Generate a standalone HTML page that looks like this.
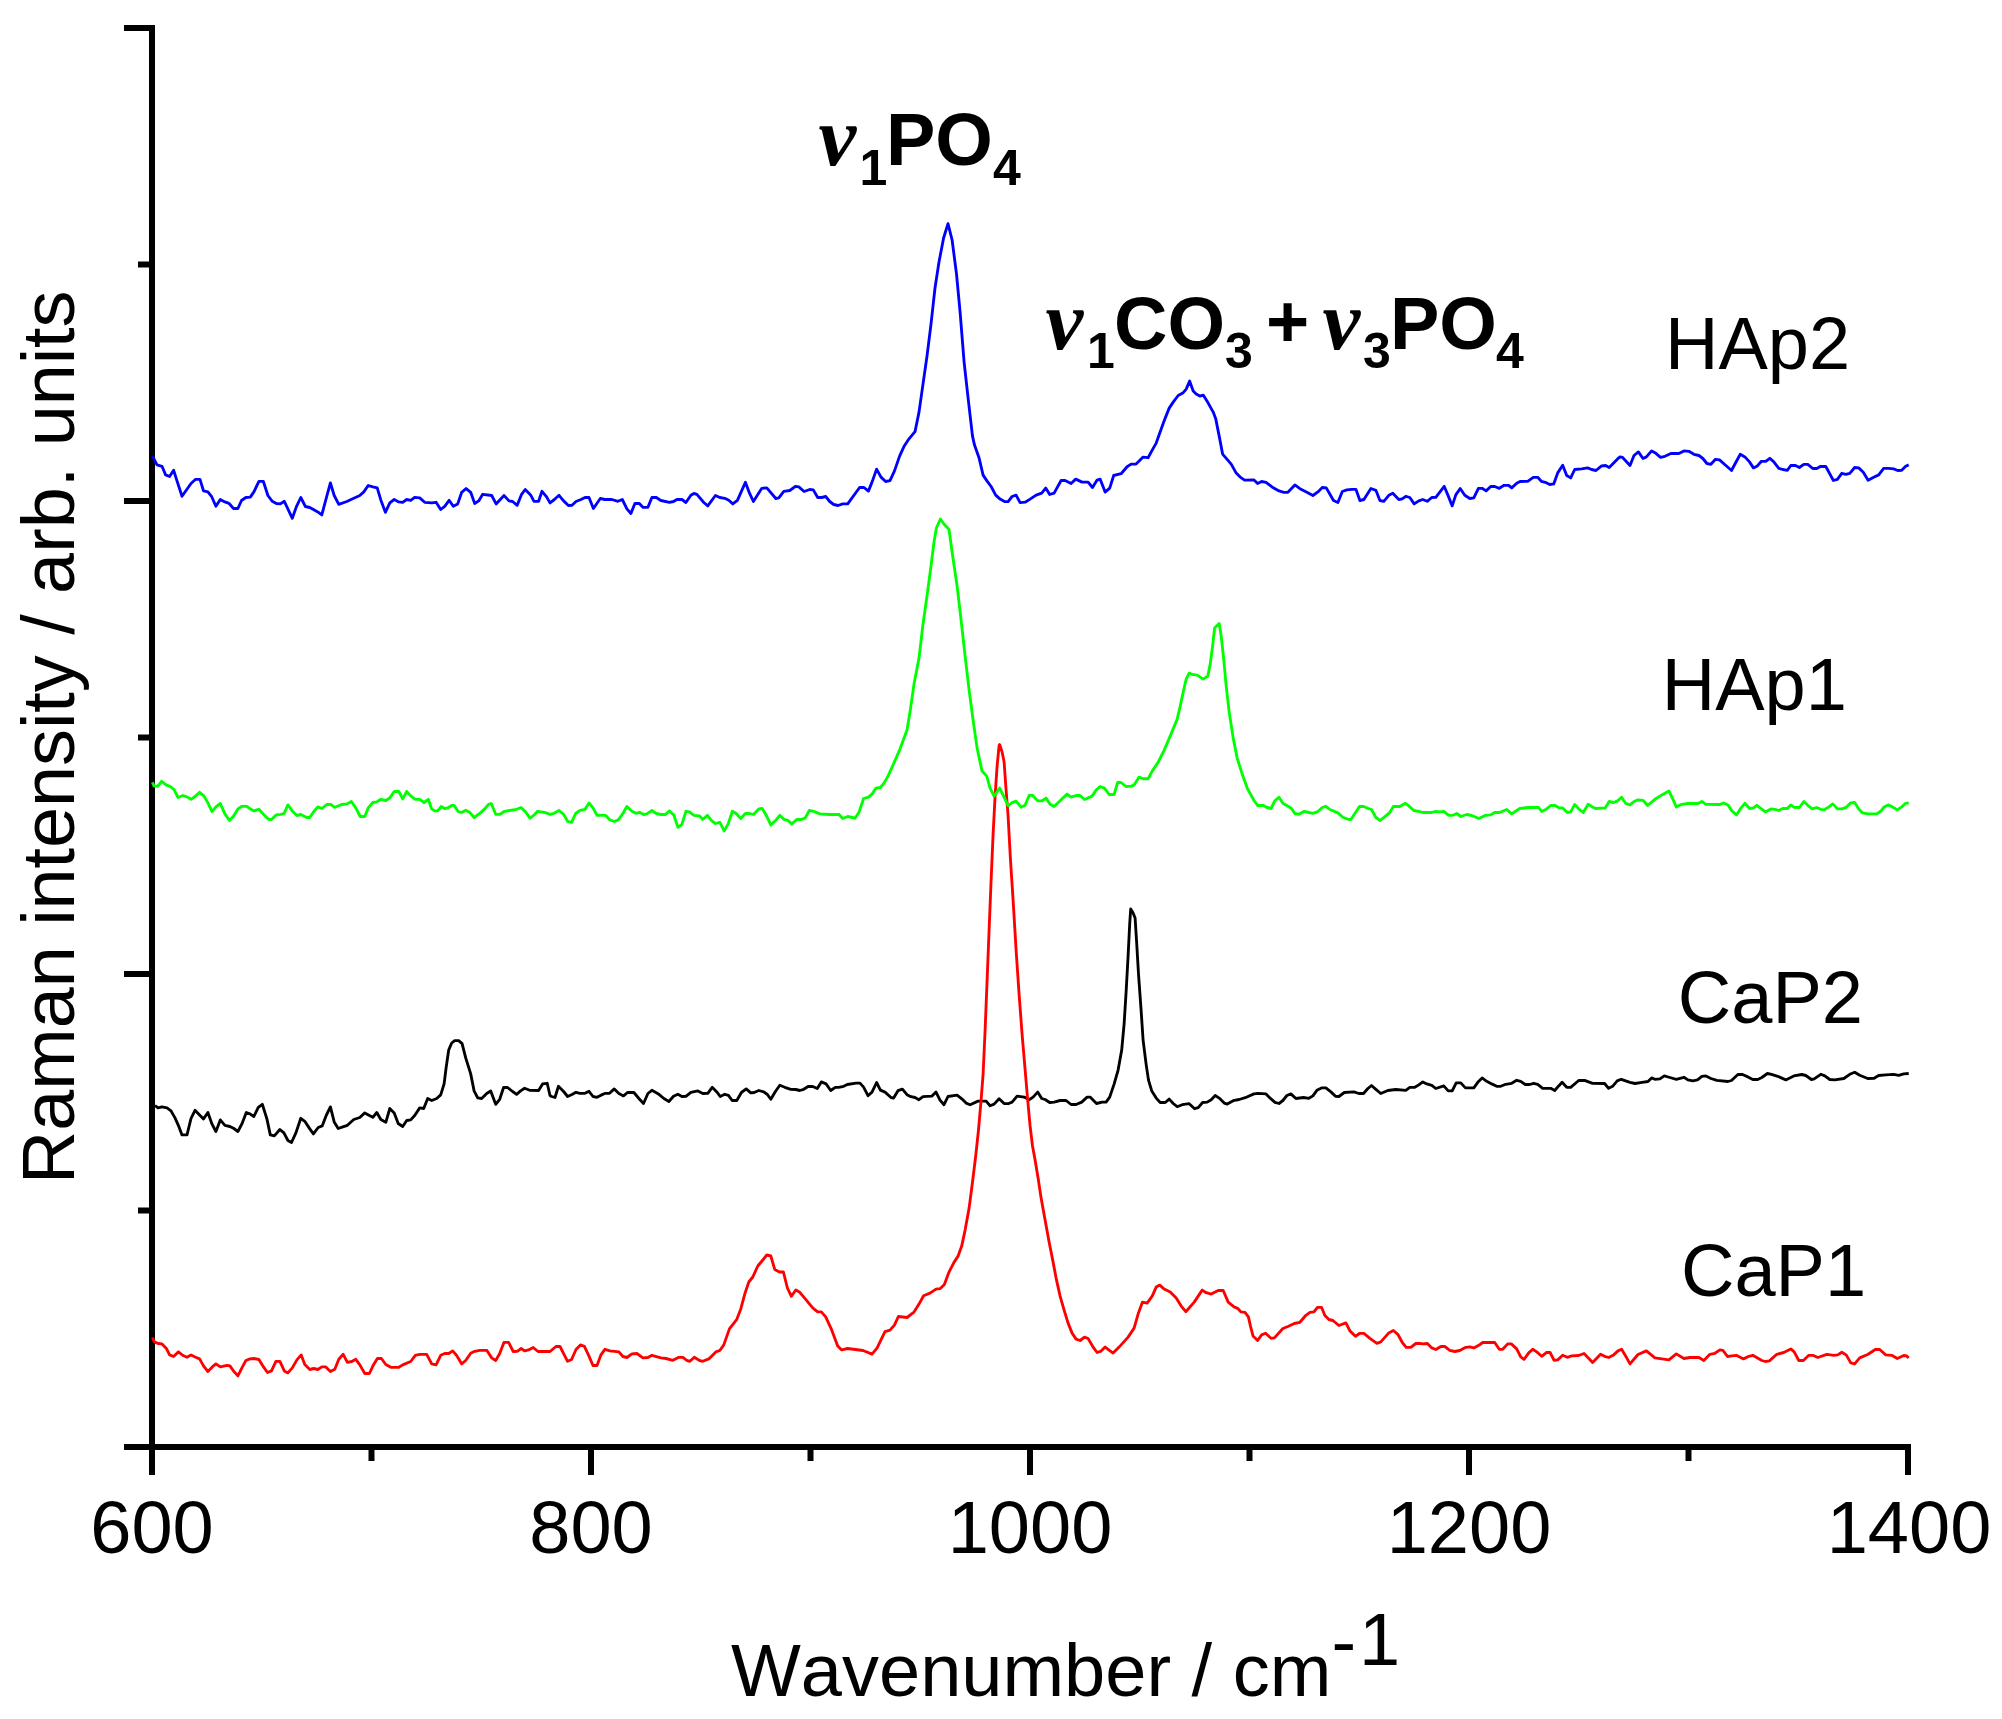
<!DOCTYPE html>
<html><head><meta charset="utf-8"><title>Raman spectra</title>
<style>
html,body{margin:0;padding:0;background:#fff;}
svg{display:block;}
text{font-family:"Liberation Sans",sans-serif;fill:#000;font-kerning:none;}
.b{font-weight:bold;}
.nu{font-family:"Liberation Serif",serif;font-weight:bold;font-style:italic;}
</style></head><body>
<svg width="2002" height="1719" viewBox="0 0 2002 1719">
<rect width="2002" height="1719" fill="#fff"/>

<g stroke="#000" stroke-width="6" fill="none" stroke-linecap="butt">
<line x1="152" y1="25" x2="152" y2="1475"/>
<line x1="124" y1="1447" x2="1911" y2="1447"/>
<line x1="124" y1="28" x2="152" y2="28"/>
<line x1="124" y1="501" x2="152" y2="501"/>
<line x1="124" y1="974" x2="152" y2="974"/>
<line x1="138" y1="264.5" x2="152" y2="264.5"/>
<line x1="138" y1="737.5" x2="152" y2="737.5"/>
<line x1="138" y1="1210.5" x2="152" y2="1210.5"/>
<line x1="591" y1="1447" x2="591" y2="1475"/>
<line x1="1030" y1="1447" x2="1030" y2="1475"/>
<line x1="1469" y1="1447" x2="1469" y2="1475"/>
<line x1="1908" y1="1447" x2="1908" y2="1475"/>
<line x1="371.5" y1="1447" x2="371.5" y2="1461"/>
<line x1="810.5" y1="1447" x2="810.5" y2="1461"/>
<line x1="1249.5" y1="1447" x2="1249.5" y2="1461"/>
<line x1="1688.5" y1="1447" x2="1688.5" y2="1461"/>
</g>
<polyline points="155,1105.5 158,1107.9 162,1106.9 167,1107.9 171,1110.9 175,1117.9 179,1126.9 182,1134.9 187,1134.9 191,1118.5 195,1110.3 199.6,1114.9 203.5,1118.9 207.9,1112.5 211.9,1123.9 215.9,1131.5 220.3,1119.9 224.9,1125.3 229.9,1126.5 233.9,1128.5 237.9,1131.5 241.9,1123.9 246.3,1112.5 249.9,1113.9 253.9,1116.5 258.3,1107.3 262.3,1104.3 266.9,1118.9 270.3,1134.9 274.3,1135.9 279.9,1129.5 283.9,1132.9 287.9,1140.5 291.5,1142.5 295.9,1132.9 300.8,1118.3 304.8,1121.3 309.8,1128.9 313.4,1133.9 318.2,1127.5 322.2,1125.9 326.2,1115.5 330.4,1106.9 334.2,1121.9 338.2,1128.5 342.8,1126.9 347.4,1125.3 353.8,1119.5 359.8,1117.5 364.8,1112.9 369.4,1115.5 372.8,1117.3 376.8,1112.5 380.8,1119.5 385.8,1122.3 389.8,1108.5 394.2,1112.9 398.2,1123.5 402.7,1126.5 406.7,1120.5 410.7,1119.9 414.7,1115.5 419.7,1107.9 423.7,1108.5 427.7,1098.5 431.7,1100.5 436.7,1098.5 440.7,1094.9 444.1,1083.9 446.1,1067.9 448.7,1050 451.7,1043 454.7,1040.6 458.7,1040.6 462.1,1043.6 465.7,1057.9 470.7,1073.9 474.1,1090.9 477.7,1097.9 481.7,1098.5 486.7,1093.5 490.7,1090.9 495.7,1104.3 499.7,1099.3 503.6,1087.5 507.6,1087.5 512.6,1091.5 516.6,1094.3 520.6,1090.9 524.6,1088.3 529.6,1090.3 538.6,1090.5 542.6,1083.9 547.2,1083.3 550,1095.5 551.6,1096.5 555,1097.5 558.4,1086.3 563.6,1091.5 567.6,1096.5 572,1094.5 576,1092.3 580,1093.3 585,1093.3 589,1091.3 593,1096.5 597,1097.3 601.5,1094.9 605.5,1093.3 609.5,1093.3 614.3,1088.9 618.9,1093.5 623.5,1095.9 627.5,1092.5 633.9,1092.5 638.9,1098.5 643.5,1103.5 647.9,1093.5 651.9,1090.3 658.9,1094.3 663.9,1098.5 668.9,1101.5 673.5,1096.3 677.9,1094.3 681.9,1096.5 685.9,1096.3 690.9,1092.3 697.9,1090.9 702.8,1093.5 707.8,1093.3 712.2,1087.3 716.8,1091.9 720.2,1096.5 724.8,1094.3 728.4,1095.3 732.2,1100.5 736.8,1100.5 741.4,1092.5 746.2,1088.9 750.8,1092.9 754.2,1092.5 758.8,1090.5 763.8,1091.9 767.4,1094.5 770.8,1099.3 775.4,1091.5 779.8,1085.3 784.8,1087.3 790.8,1089.3 795.8,1089.5 799.8,1090.5 803.7,1089.3 808.1,1086.5 812.7,1086.5 817.3,1088.5 821.3,1081.9 826.1,1083.9 830.7,1090.5 835.3,1087.3 838.7,1087.3 843.7,1086.3 847.3,1084.5 856,1083.1 860,1083.1 863.6,1087.1 868,1095.7 872,1092.1 876.6,1082.5 880.4,1090.1 885,1092.1 891,1097.5 893.6,1098.1 898,1090.7 902.4,1089.1 907,1094.7 911,1096.7 915,1097.5 919,1099.7 923,1096.7 932,1096.1 936,1092.1 940,1100.1 944,1104.7 948,1096.5 957.1,1095.1 962.1,1099.1 966.1,1103.1 970.1,1104.7 978.1,1101.1 986.1,1101.1 990.1,1105.7 994.1,1104.1 999.1,1098.7 1004.1,1103.5 1008.1,1103.7 1012.1,1102.1 1017.1,1096.1 1024.1,1097.1 1029.1,1099.7 1033.1,1097.1 1037.7,1092.1 1041.7,1098.5 1045.1,1099.5 1049.7,1102.5 1054.1,1102.1 1060.1,1100.5 1066.1,1100.5 1071.1,1104.5 1076.1,1104.5 1081.7,1102.1 1087.1,1097.1 1090.1,1097.1 1096.5,1103.5 1102.1,1102.1 1106.1,1102.1 1109.7,1097.1 1114.1,1084.1 1118.1,1070.1 1121.7,1050.1 1124.1,1024.1 1126.1,992.1 1128.1,956 1129.7,924 1130.7,909 1133.1,913 1135.1,918 1136.5,940 1138.5,974 1141.1,1010.1 1143.1,1040.1 1146.1,1064.1 1148.5,1080.1 1151.8,1091.1 1156.2,1098.1 1160.2,1102.5 1165.2,1102.5 1169.2,1099.1 1173.2,1103.5 1177.2,1106.7 1182.2,1104.7 1189.2,1103.7 1194.6,1108.7 1198.2,1107.7 1202.6,1102.5 1207.2,1102.1 1211.2,1099.7 1215.2,1095.5 1219.2,1098.1 1224.2,1103.1 1227.2,1104.1 1233.2,1100.7 1239.2,1099.5 1245.2,1097.7 1254,1093.9 1258,1093.3 1266,1093.9 1271,1098.9 1275,1102.3 1279,1103.5 1282.9,1100.5 1286.9,1095.5 1290.9,1093.9 1295.9,1098.5 1303.5,1097.5 1308.9,1098.3 1312.9,1095.9 1316.9,1090.3 1321.5,1087.9 1325.9,1087.9 1330.9,1091.9 1335.5,1096.3 1338.9,1096.5 1344.3,1092.5 1353.9,1091.9 1358.9,1093.5 1363.5,1093.5 1367.9,1088.5 1371.5,1085.5 1375.9,1089.3 1380.8,1093.5 1387.8,1090.5 1395.8,1089.5 1405.8,1090.3 1409.8,1087.3 1414.8,1087.3 1418.8,1084.9 1422.8,1081.9 1426.8,1083.9 1431.8,1085.3 1435.8,1088.5 1443.8,1085.9 1448.2,1090.9 1452.2,1090.9 1456.2,1082.9 1460.8,1082.9 1465.4,1087.9 1473.8,1087.9 1477.8,1082.3 1482.1,1077.9 1486.7,1081.3 1491.7,1083.9 1496.7,1086.3 1500.7,1086.3 1505.7,1084.3 1511.7,1083.3 1516.7,1080.3 1520.7,1081.3 1525.3,1084.5 1529.7,1084.5 1533.7,1083.3 1537.7,1084.3 1542.7,1088.3 1550.7,1088.3 1554.7,1090.5 1558.7,1085.9 1562.1,1082.3 1566.7,1087.3 1570.7,1087.3 1578.7,1080.5 1584.6,1080.3 1592.6,1083.3 1604.6,1083.5 1608.6,1088.3 1612.6,1086.3 1617.2,1080.9 1621.2,1079.3 1630,1082.3 1635,1083.5 1642,1082.3 1648,1081.5 1651.6,1077.9 1654.9,1079.3 1659.9,1078.9 1664.3,1075.9 1669.9,1077.5 1676.3,1079.3 1683.9,1077.3 1687.9,1079.9 1692.9,1080.9 1697.5,1079.9 1701.9,1076.3 1705.9,1075.9 1710.9,1078.5 1716.9,1080.3 1727.9,1081.5 1731.5,1080.5 1737.9,1074.5 1741.9,1074.3 1747.9,1076.9 1752.8,1079.5 1757.8,1079.5 1761.8,1077.5 1767.4,1073.5 1771.4,1074.3 1777.8,1076.3 1785.8,1079.9 1793.8,1075.9 1801.8,1074.5 1805.8,1075.5 1811.4,1079.5 1814.2,1078.9 1820.8,1074.3 1824.8,1075.9 1829.8,1079.5 1834.8,1079.9 1843.8,1078.5 1849.8,1074.3 1854.7,1072.3 1859.7,1075.3 1867.7,1078.5 1874.1,1078.3 1878.7,1075.5 1885.7,1074.9 1893.7,1074.3 1898.7,1075.3 1903.7,1073.9 1908.7,1073.5" fill="none" stroke="#000000" stroke-width="2.85" stroke-linejoin="round" stroke-linecap="butt"/>
<polyline points="152.4,1337.5 154.4,1341.9 158,1343.5 162,1343.9 166.4,1348.5 169.6,1354.9 173.6,1356.5 178.4,1351.9 183,1355.5 187,1357.3 191,1354.9 195.6,1357.3 199.6,1358.9 203.5,1365.9 207.9,1371.5 212.3,1366.9 215.9,1363.9 220.3,1366.9 226.9,1365.3 229.9,1365.9 233.9,1371.5 237.9,1375.9 241.9,1367.9 245.9,1360.5 249.9,1358.9 253.9,1358.5 258.9,1359.5 263.5,1366.9 267.5,1372.5 271.5,1370.9 275.9,1361.3 279.9,1361.3 284.3,1370.9 287.9,1372.9 292.3,1367.9 296.9,1359.9 301.2,1354.9 304.8,1364.5 309.8,1369.5 313.8,1368.5 317.8,1369.5 321.8,1366.9 325.8,1366.9 330.4,1371.5 334.8,1369.3 338.8,1359.3 343.2,1354.3 347.4,1362.3 351.8,1361.5 355.8,1359.3 359.8,1364.9 364.8,1373.5 369.4,1373.5 373.4,1364.9 377.4,1358.5 381.4,1358.5 385.8,1364.5 390.8,1367.3 398.8,1367.3 402.7,1364.9 410.7,1361.5 415.3,1355.3 419.7,1354.3 426.7,1354.3 431.7,1363.9 436.1,1364.9 440.7,1355.3 444.7,1353.5 448.7,1353.5 452.7,1350.9 456.7,1355.5 461.7,1363.9 465.7,1360.5 470.7,1353.3 474.7,1351.3 479.7,1350.3 486.7,1350.3 491.7,1357.9 495.7,1360.5 499.7,1353.5 504,1342.3 508.6,1342.3 513.2,1351.5 517.2,1351.3 521.2,1348.5 524.6,1350.9 528.6,1349.9 533.2,1347.5 538,1351.5 550,1351.5 556,1346.5 560,1346.5 567.6,1361.3 571.6,1359.5 576,1349.5 580.4,1344.9 584.4,1346.3 588.4,1354.9 593,1365.5 597,1365.5 600.9,1354.9 604.9,1349.3 609.9,1350.9 618.9,1351.9 622.9,1356.5 626.9,1357.5 631.9,1353.9 636.9,1353.5 642.9,1357.9 647.9,1357.5 651.9,1355.3 660.9,1357.9 665.9,1358.5 672.9,1360.3 678.9,1357.3 682.9,1357.3 686.9,1360.5 689.9,1361.3 694.3,1357.3 699.5,1360.5 702.8,1361.3 708.8,1358.9 715.8,1351.9 719.8,1350.5 723.8,1344.9 729.4,1328.9 736.8,1319.3 740.8,1308.9 744.8,1293.9 748.8,1282 752.8,1277 757.8,1266 762.8,1260 766.8,1255 770.8,1256 774.8,1269.6 779.4,1272 783.4,1272 787.4,1288 791.4,1296.3 795.8,1290 799.8,1292.3 805.7,1299.3 812.7,1307.9 817.7,1311.9 821.3,1311.9 825.7,1316.9 831.7,1329.9 837.7,1345.9 841.7,1349.9 847.7,1348.5 863,1350.5 872,1354.1 877,1348.1 885,1331.7 890,1330.1 894.4,1325.1 898.4,1316.5 907,1317.5 914,1312.1 919,1304.1 923.6,1295.7 930,1293.1 936,1289.1 940,1288.7 944.4,1284.5 949,1272.1 954.1,1262.1 958.1,1256.1 961.7,1246.1 965.1,1230.1 969.1,1208.1 972.5,1182.1 975.7,1156 978.5,1130 981.1,1100 983.1,1074.1 985.1,1030.3 987.1,980.3 989.1,930.2 991.1,880.2 993.1,834.1 995.1,796.1 997.1,766 999.1,745.6 999.7,744.6 1002.1,752 1004.1,762 1006.1,790.1 1008.1,816.1 1010.5,860.1 1013.1,900.2 1016.1,950.2 1019.1,994.3 1022.1,1034.3 1027.7,1100 1030.1,1126 1032.5,1146 1035.1,1160 1038.1,1178.1 1041.1,1198.1 1045.1,1220.1 1049.1,1242.1 1053.1,1262.1 1056.1,1278.1 1060.1,1296.1 1064.1,1310.1 1068.1,1323.1 1072.1,1333.1 1076.1,1339.1 1080.1,1340.5 1084.5,1337.1 1088.1,1338.5 1093.1,1347.1 1097.1,1352.5 1101.1,1351.1 1105.1,1347.1 1109.1,1350.1 1113.1,1353.1 1119.1,1347.1 1128.1,1337.1 1134.1,1328.1 1138.1,1314.1 1142.5,1302.1 1147.1,1303.1 1152.2,1296.1 1156.2,1287.1 1159.8,1285.1 1164.2,1289.1 1170.2,1292.1 1176.2,1298.1 1181.2,1306.1 1185.8,1311.7 1194.2,1302.1 1202.2,1290.1 1206.2,1292.7 1211.2,1294.1 1218.2,1290.5 1223.2,1290.5 1228.2,1302.1 1234,1306.9 1237.6,1308.3 1241,1311.9 1245,1312.3 1248.4,1316.9 1250.4,1325.9 1253,1335.9 1257.6,1340.5 1261.6,1334.9 1265.6,1333.3 1271,1338.3 1274.4,1337.9 1282.9,1328.5 1287.9,1326.5 1294.3,1323.5 1299.9,1322.3 1305.9,1315.3 1309.9,1312.3 1313.9,1311.9 1317.5,1307.3 1321.5,1307.3 1324.9,1315.5 1328.9,1319.5 1332.9,1320.5 1338.9,1325.5 1345.9,1322.9 1349.9,1330.9 1355.5,1336.3 1359.9,1333.3 1363.9,1333.3 1369.9,1338.3 1376.9,1343.3 1380.8,1341.9 1388.8,1332.9 1393.4,1330.5 1397.8,1334.3 1402.2,1342.3 1406.2,1347.3 1410.8,1347.3 1415.8,1343.5 1419.8,1343.3 1422.8,1343.9 1427.4,1343.5 1431.8,1347.9 1435.8,1349.5 1440.8,1346.5 1444.8,1346.5 1449.8,1350.3 1454.8,1351.5 1459.8,1350.5 1465.8,1347.3 1469.8,1346.9 1473.8,1347.9 1478.8,1345.3 1482.7,1342.5 1494.7,1342.5 1499.3,1349.3 1502.7,1349.3 1507.7,1343.9 1511.3,1343.9 1516.7,1348.9 1520.7,1356.9 1524.1,1359.3 1528.7,1352.9 1532.7,1349.3 1536.7,1351.9 1541.7,1356.3 1546.7,1352.3 1550.1,1352.5 1554.1,1360.3 1557.7,1359.9 1562.7,1355.3 1567.3,1357.3 1571.7,1355.9 1578.7,1355.5 1584,1353.5 1588.6,1358.3 1592.6,1362.5 1600.6,1354.3 1604.6,1356.3 1608.6,1357.5 1613.6,1354.9 1618,1350.9 1621.6,1349.3 1625.6,1355.9 1630,1363.9 1638,1354.5 1646.4,1350.9 1654.9,1357.9 1661.9,1358.9 1668.9,1359.9 1676.3,1353.9 1683.9,1358.5 1689.9,1357.5 1698.9,1357.5 1703.9,1360.5 1709.9,1354.3 1714.9,1353.3 1719.9,1349.9 1722.9,1350.3 1727.5,1356.5 1731.9,1355.9 1736.3,1355.3 1743.5,1358.9 1748.9,1356.3 1752.8,1355.3 1761.8,1360.5 1765.4,1361.5 1769.4,1360.9 1776.8,1354.3 1783.8,1352.5 1790.8,1348.9 1794.2,1351.9 1798.8,1360.5 1803.4,1360.5 1808.8,1355.3 1812.8,1355.3 1817.8,1357.5 1826.8,1354.3 1833.8,1355.3 1837.8,1354.9 1841.8,1352.3 1846.2,1354.9 1850.8,1362.9 1854.7,1363.9 1859.7,1357.9 1867.7,1354.5 1875.7,1349.3 1879.7,1349.5 1885.7,1354.9 1891.7,1355.3 1897.3,1358.5 1903.7,1355.5 1906.7,1355.9 1908.7,1357.9" fill="none" stroke="#ff0000" stroke-width="2.85" stroke-linejoin="round" stroke-linecap="butt"/>
<polyline points="152.4,782.3 154,785.9 157.6,786.3 161.6,781.3 166,784.9 170,786.3 174,789.5 178,797.5 183,795.5 187,796.9 191,799.3 195,796.5 199.6,792.3 203.9,795.9 207.9,802.9 211.9,811.5 215.9,806.9 220.3,803.5 224.9,813.9 229.5,820.5 233.5,816.3 237.9,808.9 241.9,806.3 246.9,806.3 250.9,809.3 253.9,810.9 258.9,809.3 264.9,815.9 268.9,819.5 271.5,819.5 276.3,814.9 280.9,814.3 284.3,813.3 287.9,804.9 292.3,810.9 296.9,815.5 300.8,814.5 306.8,817.5 309.8,817.5 313.8,811.5 317.8,806.9 321.8,808.5 326.8,804.5 330.8,804.5 334.8,807.3 341.8,804.5 346.8,803.9 351.4,801.5 355.8,807.9 360.2,816.5 364.8,816.5 368.2,807.9 372.8,802.5 376.8,801.9 380.8,799.3 385.8,800.5 389.8,797.9 394.2,791.5 398.8,791.5 402.7,798.9 406.7,791.5 410.7,795.9 415.3,799.3 419.7,799.3 424.1,802.5 428.3,799.3 431.7,808.9 434.7,810.9 437.7,810.9 441.3,806.5 444.7,808.5 447.7,807.9 452.1,805.3 454.1,805.3 458.1,811.5 461.7,812.5 465.7,810.3 469.7,812.3 474.1,817.5 479.7,813.5 484.7,808.9 488.7,804.3 491.3,803.5 495.7,814.3 500,814.3 504.6,811.3 509.6,810.5 516.6,809.3 521,807.5 525.6,811.9 530,818.3 534.6,814.5 537.6,811.3 544.6,812.3 550,814.3 554,813.3 559,810.5 563.6,814.3 567.6,821.3 571.6,822.3 575.6,813.5 580,810.3 585,809.3 589,802.9 593,807.9 597,815.3 605.5,815.3 609.9,819.9 614.3,821.5 618.3,819.9 622.9,813.5 626.9,806.5 631.9,811.3 635.9,813.3 639.5,812.3 643.5,814.5 646.9,813.9 651.9,810.5 656.3,813.5 660.9,814.5 665.5,814.5 669.5,810.9 673.9,815.3 677.9,827.3 681.9,824.3 685.9,811.3 689.5,811.9 693.9,815.3 699.5,815.9 702.8,819.5 707.4,815.3 711.8,820.9 715.4,823.5 719.8,822.3 724.2,830.9 728.2,823.9 732.4,811.3 735.8,813.3 740.8,818.5 745.4,813.5 749.8,813.5 753.4,814.5 758.8,808.9 762.2,808.5 766.8,816.3 770.8,824.9 774.8,821.3 779.8,815.3 783.8,819.3 787.8,820.3 791.8,823.9 796.8,819.5 801.3,819.5 805.3,817.9 809.3,810.5 813.7,811.3 819.7,813.9 829.7,814.5 838.7,814.3 842.7,818.5 847.7,816.5 855,818.2 859,812.2 863.6,798.5 868.4,797.1 872,794.1 876,788.1 880.4,787.5 884,783.1 888,776.1 893,765.1 900,749.1 907,730.1 910,712.1 914,684.1 919,658.1 923,624.1 927,596 931,566 934,542 936.4,528 940.4,519 944,524 949,529.4 952.1,552 957.1,586 961.1,620.1 965.1,656.1 969.1,690.1 973.1,720.1 977.1,748.1 980.1,762.1 982.1,771.1 986.7,776.1 990.1,788.1 994.1,796.1 999.7,788.1 1004.1,797.1 1008.1,805.6 1012.1,802.6 1016.1,801.2 1021.1,807.2 1025.1,805.2 1029.1,795.5 1032.1,795.1 1037.7,800.8 1042.1,800.8 1046.1,798.1 1050.1,804.2 1054.1,806.6 1060.1,800.8 1067.1,794.1 1071.1,797.1 1076.1,795.5 1080.1,795.5 1084.5,799.5 1092.1,796.1 1096.1,790.1 1100.1,786.5 1104.5,788.1 1109.1,794.5 1114.1,794.5 1117.7,782.5 1121.1,782.5 1126.1,786.5 1131.1,786.1 1134.1,785.1 1139.1,777.1 1143.1,778.7 1148.1,778.7 1152.2,771.1 1158.2,762.1 1164.2,750.1 1170.2,736.1 1177.2,719.1 1180.2,706.1 1183.2,692.1 1186.2,679.1 1189.2,673.1 1193.2,674.7 1197.2,675.1 1203.2,679.1 1207.8,676.1 1210.2,664.1 1212.6,646.1 1214.6,628.1 1219.2,623.5 1221.2,636.1 1223.8,660.1 1226.2,686.1 1229.2,712.1 1233.2,738.1 1237.2,758.1 1242.2,774.1 1247.2,788.1 1254,800.5 1257.6,805.5 1263,805.3 1267,807.5 1271,808.5 1275,800.5 1279,797.3 1282.9,803.3 1290.9,807.9 1294.9,813.5 1298.9,814.3 1304.3,811.3 1308.9,812.5 1312.9,813.3 1317.9,811.5 1322.3,807.5 1325.9,806.3 1329.9,809.5 1337.9,812.9 1342.9,817.3 1347.9,819.3 1350.9,819.5 1359.5,806.5 1363.5,806.5 1367.9,808.3 1371.5,809.5 1375.9,817.5 1380.2,820.5 1389.4,812.9 1393.4,806.5 1399.8,806.5 1405.4,803.3 1408.8,805.9 1413.8,810.5 1418.8,811.3 1422.8,812.5 1431.8,812.5 1435.8,811.3 1439.8,811.9 1443.8,811.3 1448.8,815.3 1452.8,815.3 1456.8,813.5 1460.8,816.5 1466.8,814.5 1471.8,815.5 1478.8,818.5 1485.7,815.3 1490.7,814.9 1494.7,812.5 1499.7,812.5 1506.7,809.5 1511.7,813.9 1519.7,808.5 1527.7,807.5 1538.7,807.5 1541.7,811.5 1545.7,809.5 1550.7,805.5 1554.7,805.3 1559.3,807.9 1562.7,807.9 1567.3,812.5 1570.7,811.9 1574.7,804.5 1578.7,808.9 1583.2,812.5 1588.2,804.3 1592.6,806.9 1595.6,808.5 1605.2,807.9 1609.2,801.5 1613.6,802.5 1617.6,800.9 1621.6,797.3 1625.6,803.3 1630,804.9 1634,801.5 1638,799.9 1643,800.3 1647.6,805.5 1654.9,799.3 1661.9,794.9 1668.9,790.9 1672.3,797.9 1676.3,806.9 1681.9,804.3 1687.9,803.3 1697.9,803.5 1701.9,801.5 1705.9,804.3 1719.9,804.5 1723.9,802.9 1727.9,804.9 1731.9,810.9 1736.5,814.9 1740.3,808.9 1744.9,803.3 1749.5,808.5 1753.4,807.9 1756.8,805.3 1761.4,808.9 1765.4,811.9 1770.8,808.9 1774.8,809.3 1778.8,810.5 1782.8,808.5 1787.4,808.5 1790.8,804.9 1794.2,807.3 1799.4,807.5 1803.8,801.5 1807.8,805.3 1812.2,808.9 1816.8,807.5 1820.8,809.3 1824.2,809.9 1828.8,806.9 1832.8,803.9 1837.4,808.9 1841.8,808.9 1846.2,807.3 1850.8,802.9 1854.7,802.5 1858.7,808.9 1862.7,812.9 1867.7,813.9 1876.7,813.9 1880.7,811.3 1884.1,806.9 1888.1,804.9 1891.7,806.5 1897.3,809.9 1901.7,806.9 1905.7,803.3 1908.7,802.9" fill="none" stroke="#00ff00" stroke-width="2.85" stroke-linejoin="round" stroke-linecap="butt"/>
<polyline points="152.4,455.9 157,464.9 162,466.3 165.6,474.9 169.6,476.5 173.6,470.3 177,480.9 182,496.3 191,483.5 195.6,479.3 200,479.3 203.5,490.9 207.9,491.9 211.5,496.3 215.9,506.3 220.3,499.5 224.9,501.9 228.9,503.3 233.5,508.5 237.9,508.5 241.5,500.5 245.9,497.5 250.3,497.1 253.9,491.9 258.9,481.3 263.3,481.3 267.9,495.5 272.3,501.3 276.3,503.5 280.3,503.9 284.3,501.3 292.3,518.3 296.3,506.9 300.8,497.5 305.4,506.5 309.8,507.5 317.8,511.9 321.8,514.9 325.8,499.9 330.4,482.9 334.2,495.5 338.8,504.3 346.8,501.5 353.8,498.3 359.8,495.5 363.8,491.9 368.2,485.5 372.8,486.9 377.2,487.9 380.8,499.9 385.4,512.3 389.8,502.9 394.2,499.5 398.8,501.9 402.7,502.3 406.7,499.5 410.7,500.3 414.7,497.3 419.7,497.9 424.7,502.3 431.7,502.9 436.1,502.3 440.7,509.5 444.7,506.3 449.1,500.3 453.3,506.3 457.7,503.9 461.7,492.3 466.1,488.5 470.7,492.3 474.7,503.5 478.7,500.9 482.7,494.3 491.7,495.5 496.1,503.9 504,495.5 509,500.9 512.6,501.5 517.2,505.3 521.6,494.3 525.2,489.5 530.6,494.9 534,501.3 538.6,501.3 542,491.3 546.6,496.9 550,502.9 554.4,499.5 559,495.3 563.6,500.9 568.4,505.5 572,505.3 576,501.5 581,499.5 585,497.5 589,497.5 593.4,508.5 600.3,498.5 604.9,499.5 611.9,499.5 617.9,501.3 622.3,499.5 626.9,508.9 630.9,513.5 634.9,503.5 639.3,503.5 642.9,507.3 647.9,507.3 651.9,497.5 656.3,497.5 660.9,500.5 669.5,502.3 673.5,501.5 676.9,499.5 681.9,499.5 685.9,502.5 690.9,495.3 693.9,493.5 696.9,494.3 703.8,502.5 707.8,505.9 715.4,495.5 719.8,497.5 724.8,498.3 728.8,500.3 732.8,503.9 737.4,500.3 745.4,482.3 749.4,492.9 753.4,501.5 761.8,488.3 766.8,487.9 775.8,498.5 778.8,497.9 783.8,491.3 789.8,490.5 795.4,486.3 798.8,486.9 804.1,491.5 809.7,489.5 813.3,489.9 817.7,497.5 821.7,497.5 825.7,496.5 829.7,501.5 833.7,504.5 838.1,505.5 842.7,503.9 847.7,503.9 859.6,487.5 864,487.5 868.4,491.1 872.4,481.1 876.6,469.1 881,477.1 885.6,481.5 890,480.7 894.4,471.1 899.6,456.1 904.4,445.7 908.4,439.7 915,431.7 919,412.1 923,384.1 927,356.1 931,324.1 935,288 939,262 943.6,238 948,223.6 952.1,240 956.5,274 960.1,312.1 964.1,362.1 968.1,398.1 972.5,436.1 974.5,445.1 979.1,458.1 983.1,475.1 987.1,481.1 991.1,486.5 995.7,495.1 1000.1,499.1 1004.5,501.6 1008.1,501.6 1012.1,496.5 1016.1,495.1 1020.1,502.6 1025.1,502.2 1030.1,499.1 1036.1,495.1 1041.7,493.1 1045.7,488.1 1049.7,494.5 1054.1,493.1 1061.1,480.5 1065.1,480.5 1071.1,483.5 1075.7,479.1 1082.1,482.1 1088.1,482.1 1092.5,487.5 1097.1,480.1 1100.1,479.1 1105.1,492.1 1109.7,488.1 1113.7,475.5 1121.1,473.7 1127.1,466.7 1131.1,464.1 1136.1,464.1 1143.1,457.1 1148.1,457.7 1152.2,450.1 1156.2,443.1 1161.2,429.1 1165.2,418.1 1169.2,408.1 1173.2,402.1 1178.2,395.5 1183.2,392.7 1186.2,389.1 1189.6,381.1 1193.2,391.1 1196.2,394.1 1199.8,396.1 1203.2,395.1 1208.2,403.1 1213.2,412.1 1215.8,419.1 1219.2,436.1 1222.6,454.1 1231.2,464.1 1236.2,473.1 1240.2,477.1 1244.6,480.1 1254,479.9 1257.6,483.5 1261.6,481.5 1266,482.3 1272,486.9 1279,490.9 1283.9,492.3 1287.9,492.3 1294.9,484.9 1300.9,489.3 1306.9,492.3 1312.9,495.5 1317.9,491.9 1322.3,487.5 1326.3,487.9 1333.5,500.5 1337.9,502.5 1342.3,491.5 1346.9,489.9 1351.9,489.3 1355.9,489.3 1359.9,500.5 1363.9,499.5 1370.9,488.5 1375.9,490.3 1379.9,500.5 1383.8,501.3 1388.8,495.3 1392.8,493.3 1398.8,499.5 1402.2,498.9 1405.8,496.3 1409.8,497.5 1414.2,503.9 1418.8,500.9 1422.8,499.5 1427.2,501.3 1431.8,497.5 1435.8,497.3 1444.2,486.3 1448.2,495.9 1452.2,505.9 1455.8,494.9 1460.2,488.5 1464.8,495.3 1469.8,498.5 1473.8,497.9 1478.4,488.3 1482.1,488.3 1486.1,490.9 1490.7,486.5 1494.7,486.5 1499.3,488.3 1504.1,485.3 1508.7,485.3 1511.7,487.9 1516.7,483.3 1520.1,481.5 1527.7,481.3 1533.3,477.3 1537.7,477.3 1541.3,481.3 1545.3,482.3 1549.7,484.5 1553.7,483.9 1557.7,472.9 1562.7,465.3 1566.7,475.5 1570.7,477.9 1574.7,469.5 1581.6,468.9 1587.6,467.9 1591.6,469.5 1596,470.5 1601.6,465.9 1605.6,465.5 1609.2,467.5 1617.6,458.9 1620,456.9 1622.6,457.5 1630,465.5 1634,455.5 1638.4,451.9 1643,458.5 1646.4,456.9 1651.6,450.9 1655.9,453.3 1660.5,457.3 1664.9,456.3 1670.9,453.5 1678.9,453.5 1683.9,450.9 1688.9,451.3 1693.9,454.3 1698.9,455.5 1702.9,458.5 1706.9,463.5 1710.9,464.3 1715.5,459.3 1719.5,459.9 1725.9,465.5 1731.5,470.5 1736.3,461.5 1740.3,454.3 1744.9,456.9 1749.5,461.9 1753.4,467.9 1757.4,465.9 1761.4,461.3 1765.8,461.3 1769.8,458.3 1773.8,461.9 1778.8,468.3 1782.8,469.5 1787.4,470.3 1790.8,465.5 1795.4,465.5 1799.4,467.5 1803.8,464.3 1807.8,464.3 1812.8,468.5 1816.8,468.5 1820.8,466.3 1825.8,466.5 1829.8,473.9 1833.4,480.5 1837.4,479.3 1841.8,473.3 1845.8,474.3 1849.8,473.3 1854.7,467.5 1858.7,467.9 1863.3,472.3 1868.1,480.3 1873.7,477.3 1878.7,474.9 1883.7,468.3 1888.7,468.3 1893.7,468.9 1897.7,470.5 1901.7,470.3 1905.7,466.3 1908.7,464.9" fill="none" stroke="#0000ff" stroke-width="2.85" stroke-linejoin="round" stroke-linecap="butt"/>
<text x="152" y="1553" font-size="74" text-anchor="middle">600</text>
<text x="591" y="1553" font-size="74" text-anchor="middle">800</text>
<text x="1030" y="1553" font-size="74" text-anchor="middle">1000</text>
<text x="1469" y="1553" font-size="74" text-anchor="middle">1200</text>
<text x="1909" y="1553" font-size="74" text-anchor="middle">1400</text>
<text x="731" y="1695.7" font-size="74">Wavenumber / cm<tspan dy="-29">-</tspan><tspan dy="-2.2" dx="3">1</tspan></text>
<text transform="translate(74.3,1184) rotate(-90) scale(0.9966,1)" font-size="74">Raman intensity / arb. units</text>
<text x="1665" y="368.6" font-size="74">HAp2</text>
<text x="1661.8" y="709.6" font-size="74">HAp1</text>
<text x="1677.8" y="1022.8" font-size="74">CaP2</text>
<text x="1681" y="1296" font-size="74">CaP1</text>
<text x="818.5" y="165" font-size="85" class="nu">ν</text>
<text x="859.5" y="185" font-size="50" class="b">1</text>
<text x="886" y="165" font-size="74" class="b">PO</text>
<text x="993" y="185" font-size="50" class="b">4</text>
<text x="1045.5" y="349.2" font-size="85" class="nu">ν</text>
<text x="1087" y="368.3" font-size="50" class="b">1</text>
<text x="1114" y="349.2" font-size="74" class="b">CO</text>
<text x="1225" y="368.3" font-size="50" class="b">3</text>
<text x="1266" y="346.7" font-size="74" class="b">+</text>
<text x="1322.5" y="349.2" font-size="85" class="nu">ν</text>
<text x="1363" y="368.3" font-size="50" class="b">3</text>
<text x="1390" y="349.2" font-size="74" class="b">PO</text>
<text x="1496" y="368.3" font-size="50" class="b">4</text>
</svg></body></html>
